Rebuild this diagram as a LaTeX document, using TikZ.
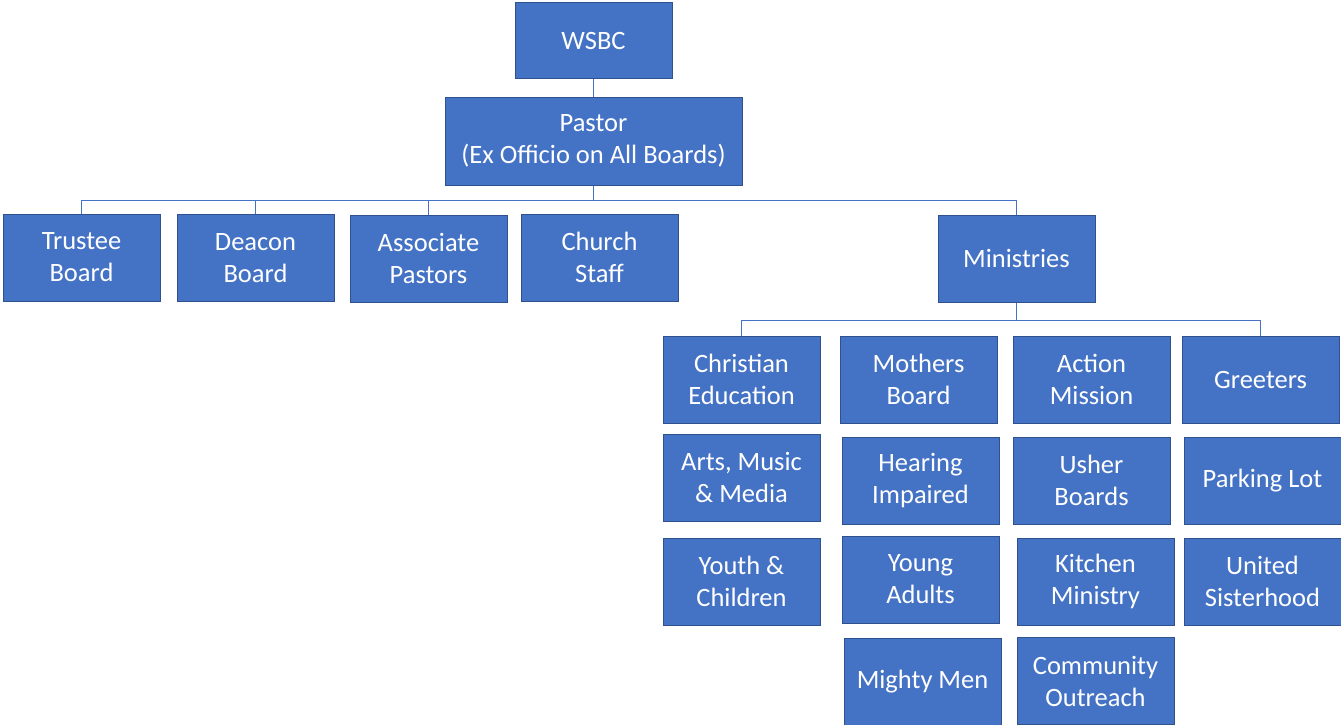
\documentclass[tikz,border=0pt]{standalone}
\usepackage{fontspec}
\setmainfont{Carlito}
\usetikzlibrary{positioning}
\usetikzlibrary{calc}
\definecolor{boxblue}{HTML}{4472C4}
\definecolor{boxedge}{HTML}{2F528F}
\tikzstyle{unit}=[rectangle,fill=boxblue,draw=boxedge,line width=1pt,minimum width=157pt,minimum height=87pt,inner sep=0pt,text=white,align=center,font=\fontsize{26.5}{32}\selectfont]
\tikzstyle{wideunit}=[unit,minimum width=297pt,minimum height=88pt]
\tikzstyle{topunit}=[unit,minimum height=75pt]
\tikzstyle{link} = [draw,boxblue,line width=1.3pt]

\begin{document}
\begin{tikzpicture}[x=1pt,y=-1pt]
    \useasboundingbox (0,0) rectangle (1341,725);
    % Top of the chart
    \node[topunit] (wsbc) at (593.5,40.5) {WSBC};
    \node[wideunit] (pastor) at (593.5,141) {Pastor\\(Ex Officio on All Boards)};

    % Boards reporting to the pastor
    \foreach \pos/\name/\label in {{(81.5,257.5)/trustee/Trustee\\Board}, {(255.5,258)/deacon/Deacon\\Board}, {(428.5,258.5)/assoc/Associate\\Pastors}, {(599.5,257.5)/staff/Church\\Staff}, {(1016.5,258.5)/min/Ministries}}
        \node[unit] (\name) at \pos {\label};

    % Ministries grid
    \foreach \pos/\name/\label in {{(741.5,379.5)/ce/Christian\\Education}, {(741.5,477.5)/arts/Arts, Music\\\& Media}, {(741.5,581.5)/youth/Youth \&\\Children},
        {(918.5,379.5)/mothers/Mothers\\Board}, {(920.5,480.5)/hearing/Hearing\\Impaired}, {(920.5,579.5)/young/Young\\Adults}, {(922.5,681.5)/mighty/Mighty Men},
        {(1091.5,379.5)/action/Action\\Mission}, {(1091.5,480.5)/usher/Usher\\Boards}, {(1095.5,581.5)/kitchen/Kitchen\\Ministry}, {(1095.5,681)/community/Community\\Outreach},
        {(1260.5,379.5)/greeters/Greeters}, {(1262.5,480.5)/parking/Parking Lot}, {(1262.5,581.5)/sister/United\\Sisterhood}}
        \node[unit] (\name) at \pos {\label};

    % Connect the boxes
    \path[link] (wsbc) -- (pastor);
    \coordinate (pbus) at ($(pastor.south)+(0,15)$);
    \path[link] (pastor) -- (pbus);
    \foreach \dest in {trustee, deacon, assoc, min}
        \path[link] (pbus) -| (\dest.north);

    \coordinate (mbus) at ($(min.south)+(0,18)$);
    \path[link] (min) -- (mbus);
    \foreach \dest in {ce, greeters}
        \path[link] (mbus) -| (\dest.north);
\end{tikzpicture}
\end{document}
